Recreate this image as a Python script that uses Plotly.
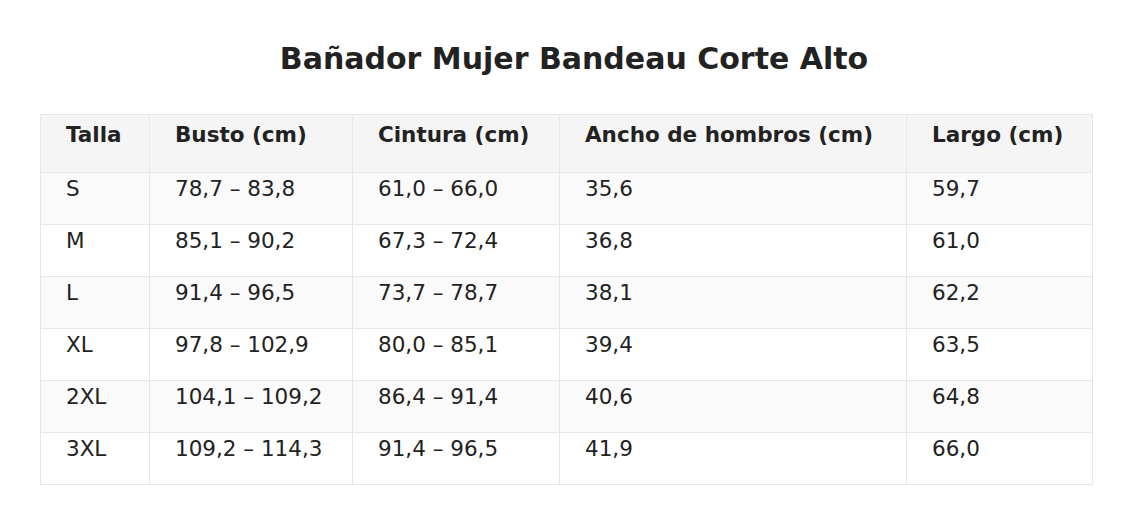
import plotly.graph_objects as go

headers = ["Talla", "Busto (cm)", "Cintura (cm)", "Ancho de hombros (cm)", "Largo (cm)"]
tallas = ["S", "M", "L", "XL", "2XL", "3XL"]
busto = ["78,7 – 83,8", "85,1 – 90,2", "91,4 – 96,5", "97,8 – 102,9", "104,1 – 109,2", "109,2 – 114,3"]
cintura = ["61,0 – 66,0", "67,3 – 72,4", "73,7 – 78,7", "80,0 – 85,1", "86,4 – 91,4", "91,4 – 96,5"]
hombros = ["35,6", "36,8", "38,1", "39,4", "40,6", "41,9"]
largo = ["59,7", "61,0", "62,2", "63,5", "64,8", "66,0"]

pad = "\u00a0\u00a0\u2009"
cols = [tallas, busto, cintura, hombros, largo]
cols_txt = [[pad + v for v in c] for c in cols]
hdr_txt = [pad + "<b>" + h + "</b>" for h in headers]
fills = ["#fafafa" if i % 2 == 0 else "#ffffff" for i in range(len(tallas))]

W, H = 1132, 524
fig = go.Figure(go.Table(
    columnwidth=[109, 203, 207, 347, 186],
    domain=dict(x=[32 / W, 1084 / W], y=[0, 1 - 106 / H]),
    header=dict(values=hdr_txt, align="left", height=58,
                fill_color="#f5f5f5", line_color="#e6e6e6",
                font=dict(family="DejaVu Sans", size=21.5, color="#222222")),
    cells=dict(values=cols_txt, align="left", height=52,
               fill_color=[fills] * 5, line_color="#e6e6e6",
               font=dict(family="DejaVu Sans", size=21.5, color="#222222")),
))
fig.update_layout(
    width=W, height=H, margin=dict(l=0, r=0, t=0, b=0),
    paper_bgcolor="white",
    title=dict(text="<b>Bañador Mujer Bandeau Corte Alto</b>", x=0.5, xanchor="center",
               y=1 - 50 / H, yanchor="middle",
               font=dict(family="DejaVu Sans", size=30, color="#222222")),
)
fig.write_html("out.html")
